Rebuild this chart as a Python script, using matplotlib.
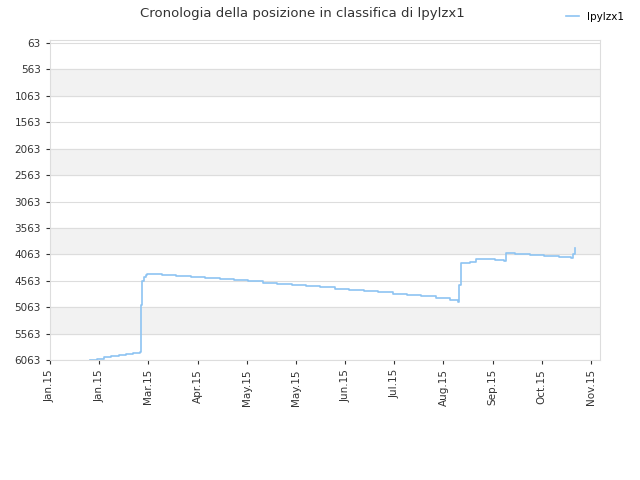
import matplotlib.pyplot as plt

# day index (0 = Jan.15 tick, 300 = Nov.15 tick) and rank
days = [22, 26, 30, 34, 38, 42, 46, 50, 50.5, 51, 52, 53, 54, 62, 70, 78, 86, 94, 102,
        110, 118, 126, 134, 142, 150, 158, 166, 174, 182, 190, 198, 206, 214, 222, 226,
        227, 228, 233, 236, 240, 247, 252, 253, 258, 266, 274, 282, 289, 290, 291]
ranks = [6063, 6040, 6015, 5990, 5970, 5950, 5930, 5913, 5023, 4568, 4500, 4450, 4436,
         4450, 4470, 4490, 4510, 4530, 4555, 4575, 4600, 4620, 4645, 4665, 4690, 4710,
         4735, 4760, 4785, 4810, 4835, 4860, 4890, 4930, 4966,
         4650, 4228, 4215, 4146, 4160, 4170, 4190, 4038, 4050, 4070, 4090, 4110, 4133,
         4050, 3944]
tick_labels = ["Jan.15", "Jan.15", "Mar.15", "Apr.15", "May.15", "May.15",
               "Jun.15", "Jul.15", "Aug.15", "Sep.15", "Oct.15", "Nov.15"]
y_ticks = list(range(63, 6064, 500))

fig = plt.figure(figsize=(6.4, 4.8), dpi=100)
ax = fig.add_axes([50 / 640, 120 / 480, 550 / 640, 320 / 480])

for lo in (563, 2063, 3563, 5063):
    ax.axhspan(lo, lo + 500, color="#f2f2f2", zorder=0)
for t in y_ticks:
    ax.axhline(t, color="#dddddd", lw=0.8, zorder=1)

ax.plot(days, ranks, drawstyle="steps-post", color="#8ec4f2", lw=1.2,
        label="lpylzx1", zorder=2)

ax.set_ylim(6063, 6)
ax.set_xlim(0, 305)
ax.set_yticks(y_ticks)
ax.set_xticks([i * 300 / 11 for i in range(12)])
ax.set_xticklabels(tick_labels, rotation=90)
ax.tick_params(labelsize=7.5, colors="#333333", length=3)
for s in ax.spines.values():
    s.set_color("#dddddd")

fig.text(0.473, 0.972, "Cronologia della posizione in classifica di lpylzx1",
         ha="center", va="center", fontsize=9.5, color="#333333")
fig.legend(loc="upper right", bbox_to_anchor=(0.99, 0.995), frameon=False,
           fontsize=7.5, handlelength=1.2)
fig.savefig("out.png", dpi=100)
